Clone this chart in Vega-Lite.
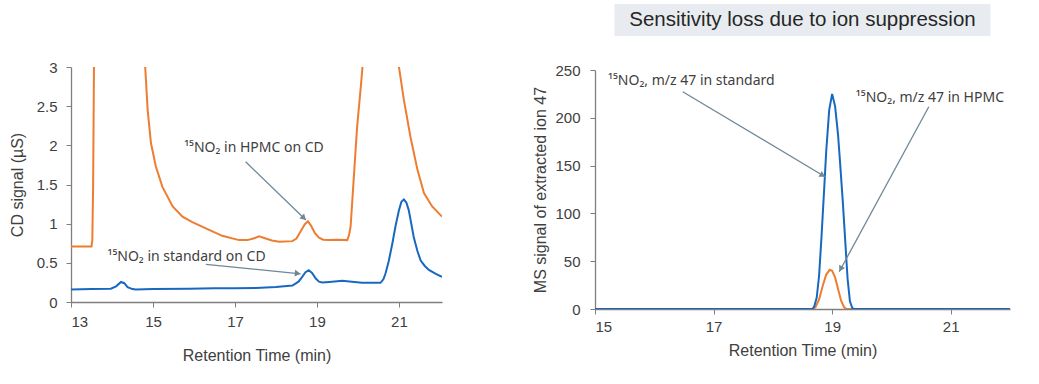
{
  "$schema": "https://vega.github.io/schema/vega-lite/v6.json",
  "padding": {"left": 9, "top": 4, "right": 5, "bottom": 5},
  "spacing": 90,
  "config": {
    "view": {"stroke": null},
    "font": "Liberation Sans",
    "axis": {
      "domainColor": "#7f7f7f",
      "tickColor": "#7f7f7f",
      "domainWidth": 1.3,
      "labelColor": "#404040",
      "titleColor": "#404040",
      "labelFont": "Liberation Sans",
      "titleFont": "Liberation Sans",
      "labelFontSize": 15,
      "titleFontSize": 16,
      "titleFontWeight": "normal",
      "grid": false,
      "tickSize": 5,
      "format": "~r",
      "labelOverlap": false
    }
  },
  "datasets": {
    "cdHPMC": [
      {"t": 13.0, "v": 0.71}, {"t": 13.3, "v": 0.71}, {"t": 13.5, "v": 0.71}, {"t": 13.52, "v": 0.79},
      {"t": 13.54, "v": 1.5}, {"t": 13.56, "v": 3.0}, {"t": 13.58, "v": 6}, {"t": 13.7, "v": 20},
      {"t": 14.7, "v": 20}, {"t": 14.79, "v": 3.3}, {"t": 14.81, "v": 3.0}, {"t": 14.87, "v": 2.45},
      {"t": 14.95, "v": 2.03}, {"t": 15.07, "v": 1.73}, {"t": 15.23, "v": 1.47}, {"t": 15.48, "v": 1.22},
      {"t": 15.72, "v": 1.09}, {"t": 15.96, "v": 1.02}, {"t": 16.29, "v": 0.94}, {"t": 16.69, "v": 0.845},
      {"t": 17.1, "v": 0.79}, {"t": 17.3, "v": 0.79}, {"t": 17.45, "v": 0.81}, {"t": 17.59, "v": 0.84},
      {"t": 17.75, "v": 0.81}, {"t": 17.9, "v": 0.785}, {"t": 18.08, "v": 0.77}, {"t": 18.4, "v": 0.777},
      {"t": 18.5, "v": 0.81}, {"t": 18.6, "v": 0.9}, {"t": 18.7, "v": 0.99}, {"t": 18.78, "v": 1.03},
      {"t": 18.85, "v": 0.98}, {"t": 18.95, "v": 0.88}, {"t": 19.05, "v": 0.82}, {"t": 19.15, "v": 0.795},
      {"t": 19.29, "v": 0.79}, {"t": 19.5, "v": 0.795}, {"t": 19.74, "v": 0.79}, {"t": 19.78, "v": 0.85},
      {"t": 19.82, "v": 0.96}, {"t": 19.9, "v": 1.6}, {"t": 19.98, "v": 2.24}, {"t": 20.07, "v": 2.75},
      {"t": 20.11, "v": 3.0}, {"t": 20.14, "v": 3.5}, {"t": 20.3, "v": 10}, {"t": 20.9, "v": 10},
      {"t": 20.98, "v": 3.2}, {"t": 21.0, "v": 3.0}, {"t": 21.12, "v": 2.58}, {"t": 21.28, "v": 2.11},
      {"t": 21.45, "v": 1.69}, {"t": 21.61, "v": 1.39}, {"t": 21.81, "v": 1.22}, {"t": 22.05, "v": 1.09}
    ],
    "cdStd": [
      {"t": 13.0, "v": 0.16}, {"t": 13.5, "v": 0.165}, {"t": 13.97, "v": 0.17}, {"t": 14.1, "v": 0.2},
      {"t": 14.22, "v": 0.256}, {"t": 14.3, "v": 0.24}, {"t": 14.38, "v": 0.19}, {"t": 14.5, "v": 0.165},
      {"t": 14.58, "v": 0.16}, {"t": 15.0, "v": 0.165}, {"t": 15.88, "v": 0.17}, {"t": 16.5, "v": 0.175},
      {"t": 17.0, "v": 0.175}, {"t": 17.51, "v": 0.18}, {"t": 18.0, "v": 0.19}, {"t": 18.4, "v": 0.21},
      {"t": 18.55, "v": 0.26}, {"t": 18.64, "v": 0.32}, {"t": 18.72, "v": 0.38}, {"t": 18.8, "v": 0.405},
      {"t": 18.88, "v": 0.37}, {"t": 18.97, "v": 0.3}, {"t": 19.05, "v": 0.26}, {"t": 19.13, "v": 0.25},
      {"t": 19.3, "v": 0.256}, {"t": 19.62, "v": 0.27}, {"t": 19.85, "v": 0.26}, {"t": 20.1, "v": 0.245},
      {"t": 20.55, "v": 0.245}, {"t": 20.62, "v": 0.29}, {"t": 20.67, "v": 0.36}, {"t": 20.75, "v": 0.52},
      {"t": 20.84, "v": 0.75}, {"t": 20.92, "v": 0.98}, {"t": 21.0, "v": 1.17}, {"t": 21.06, "v": 1.28},
      {"t": 21.12, "v": 1.31}, {"t": 21.18, "v": 1.27}, {"t": 21.24, "v": 1.17}, {"t": 21.3, "v": 1.0},
      {"t": 21.36, "v": 0.83}, {"t": 21.45, "v": 0.65}, {"t": 21.53, "v": 0.53}, {"t": 21.63, "v": 0.46},
      {"t": 21.73, "v": 0.41}, {"t": 21.9, "v": 0.36}, {"t": 22.05, "v": 0.32}
    ],
    "msStd": [
      {"t": 15.0, "v": 0}, {"t": 18.67, "v": 0}, {"t": 18.7, "v": 3}, {"t": 18.74, "v": 12},
      {"t": 18.78, "v": 35}, {"t": 18.82, "v": 75}, {"t": 18.865, "v": 125}, {"t": 18.9, "v": 165},
      {"t": 18.95, "v": 208}, {"t": 19.0, "v": 225}, {"t": 19.05, "v": 212}, {"t": 19.1, "v": 182},
      {"t": 19.135, "v": 152}, {"t": 19.18, "v": 112}, {"t": 19.22, "v": 72}, {"t": 19.26, "v": 32},
      {"t": 19.3, "v": 8}, {"t": 19.34, "v": 1}, {"t": 19.37, "v": 0}, {"t": 22.0, "v": 0}
    ],
    "msHPMC": [
      {"t": 15.0, "v": 0}, {"t": 18.68, "v": 0}, {"t": 18.72, "v": 2}, {"t": 18.78, "v": 10},
      {"t": 18.84, "v": 24}, {"t": 18.9, "v": 36}, {"t": 18.96, "v": 41}, {"t": 19.0, "v": 40},
      {"t": 19.05, "v": 33}, {"t": 19.1, "v": 21}, {"t": 19.15, "v": 9}, {"t": 19.2, "v": 2},
      {"t": 19.24, "v": 0}, {"t": 22.0, "v": 0}
    ],
    "notesL": [
      {"t": 15.76, "v": 1.96, "label": "¹⁵NO₂ in HPMC on CD"},
      {"t": 13.89, "v": 0.576, "label": "¹⁵NO₂ in standard on CD"}
    ],
    "arrowsL": [
      {"id": "hpmc", "x1": 17.26, "y1": 1.79, "x2": 18.73, "y2": 1.046, "hx": 18.68, "hy": 1.072},
      {"id": "std", "x1": 16.29, "y1": 0.48, "x2": 18.6, "y2": 0.36, "hx": 18.53, "hy": 0.364}
    ],
    "notesR": [
      {"t": 15.22, "v": 238, "label": "¹⁵NO₂, m/z 47 in standard"},
      {"t": 19.4, "v": 221, "label": "¹⁵NO₂, m/z 47 in HPMC"}
    ],
    "arrowsR": [
      {"id": "std", "x1": 16.48, "y1": 227.3, "x2": 18.88, "y2": 138.4, "hx": 18.84, "hy": 139.9},
      {"id": "hpmc", "x1": 20.63, "y1": 211.6, "x2": 19.12, "y2": 39, "hx": 19.144, "hy": 41.8}
    ]
  },
  "hconcat": [
    {
      "vconcat": [
        {
          "width": 371,
          "height": 32,
          "data": {"values": [{"a": ""}]},
          "mark": {"type": "text"},
          "encoding": {"text": {"field": "a"}}
        },
        {
          "width": 371,
          "height": 235,
          "layer": [
            {
              "data": {"name": "cdHPMC"},
              "mark": {"type": "line", "color": "#ED7D31", "strokeWidth": 2, "clip": true},
              "encoding": {
                "x": {"field": "t", "type": "quantitative", "scale": {"domain": [13, 22.05], "nice": false},
                  "title": "Retention Time (min)",
                  "axis": {"values": [13, 15, 17, 19, 21], "labelPadding": 7, "titlePadding": 18}},
                "y": {"field": "v", "type": "quantitative", "scale": {"domain": [0, 3], "nice": false},
                  "title": "CD signal (µS)",
                  "axis": {"values": [0, 0.5, 1, 1.5, 2, 2.5, 3], "tickCount": 7, "labelOverlap": false, "labelExpr": "format(datum.value, '~r')", "labelPadding": 9, "titlePadding": 11}}
              }
            },
            {
              "data": {"name": "cdStd"},
              "mark": {"type": "line", "color": "#1868C2", "strokeWidth": 2, "clip": true},
              "encoding": {
                "x": {"field": "t", "type": "quantitative"},
                "y": {"field": "v", "type": "quantitative"}
              }
            },
            {
              "data": {"name": "arrowsL"},
              "mark": {"type": "rule", "color": "#6F8896", "strokeWidth": 1.3},
              "encoding": {
                "x": {"field": "x1", "type": "quantitative"},
                "y": {"field": "y1", "type": "quantitative"},
                "x2": {"field": "x2"},
                "y2": {"field": "y2"}
              }
            },
            {
              "data": {"name": "arrowsL"},
              "transform": [{"filter": "datum.id === 'hpmc'"}],
              "mark": {"type": "point", "shape": "triangle-up", "filled": true, "color": "#6F8896", "size": 45, "angle": 134, "opacity": 1},
              "encoding": {
                "x": {"field": "hx", "type": "quantitative"},
                "y": {"field": "hy", "type": "quantitative"}
              }
            },
            {
              "data": {"name": "arrowsL"},
              "transform": [{"filter": "datum.id === 'std'"}],
              "mark": {"type": "point", "shape": "triangle-up", "filled": true, "color": "#6F8896", "size": 45, "angle": 96, "opacity": 1},
              "encoding": {
                "x": {"field": "hx", "type": "quantitative"},
                "y": {"field": "hy", "type": "quantitative"}
              }
            },
            {
              "data": {"name": "notesL"},
              "mark": {"type": "text", "align": "left", "baseline": "middle", "font": "Noto Sans", "fontSize": 14, "color": "#404040"},
              "encoding": {
                "x": {"field": "t", "type": "quantitative"},
                "y": {"field": "v", "type": "quantitative"},
                "text": {"field": "label"}
              }
            }
          ]
        }
      ],
      "spacing": 31,
      "bounds": "flush"
    },
    {
      "vconcat": [
        {
          "width": 376,
          "height": 32,
          "view": {"fill": "#E8ECF0", "stroke": null},
          "data": {"values": [{"label": "Sensitivity loss due to ion suppression"}]},
          "mark": {"type": "text", "fontSize": 20.5, "font": "Liberation Sans", "color": "#262626", "baseline": "middle", "align": "center"},
          "encoding": {"text": {"field": "label"}}
        },
        {
          "width": 415,
          "height": 239,
          "layer": [
            {
              "data": {"name": "msHPMC"},
              "mark": {"type": "line", "color": "#ED7D31", "strokeWidth": 2, "clip": true},
              "encoding": {
                "x": {"field": "t", "type": "quantitative", "scale": {"domain": [15, 22], "nice": false},
                  "title": "Retention Time (min)",
                  "axis": {"values": [15, 17, 19, 21], "labelPadding": 5, "titlePadding": 8}},
                "y": {"field": "v", "type": "quantitative", "scale": {"domain": [0, 250], "nice": false},
                  "title": "MS signal of extracted ion 47",
                  "axis": {"values": [0, 50, 100, 150, 200, 250], "labelPadding": 10, "titlePadding": 6}}
              }
            },
            {
              "data": {"name": "msStd"},
              "mark": {"type": "line", "color": "#1868C2", "strokeWidth": 2, "clip": true},
              "encoding": {
                "x": {"field": "t", "type": "quantitative"},
                "y": {"field": "v", "type": "quantitative"}
              }
            },
            {
              "data": {"name": "arrowsR"},
              "mark": {"type": "rule", "color": "#6F8896", "strokeWidth": 1.3},
              "encoding": {
                "x": {"field": "x1", "type": "quantitative"},
                "y": {"field": "y1", "type": "quantitative"},
                "x2": {"field": "x2"},
                "y2": {"field": "y2"}
              }
            },
            {
              "data": {"name": "arrowsR"},
              "transform": [{"filter": "datum.id === 'std'"}],
              "mark": {"type": "point", "shape": "triangle-up", "filled": true, "color": "#6F8896", "size": 45, "angle": 121, "opacity": 1},
              "encoding": {
                "x": {"field": "hx", "type": "quantitative"},
                "y": {"field": "hy", "type": "quantitative"}
              }
            },
            {
              "data": {"name": "arrowsR"},
              "transform": [{"filter": "datum.id === 'hpmc'"}],
              "mark": {"type": "point", "shape": "triangle-up", "filled": true, "color": "#6F8896", "size": 45, "angle": 209, "opacity": 1},
              "encoding": {
                "x": {"field": "hx", "type": "quantitative"},
                "y": {"field": "hy", "type": "quantitative"}
              }
            },
            {
              "data": {"name": "notesR"},
              "mark": {"type": "text", "align": "left", "baseline": "middle", "font": "Noto Sans", "fontSize": 14, "color": "#404040"},
              "encoding": {
                "x": {"field": "t", "type": "quantitative"},
                "y": {"field": "v", "type": "quantitative"},
                "text": {"field": "label"}
              }
            }
          ]
        }
      ],
      "spacing": 34,
      "bounds": "flush",
      "center": true
    }
  ]
}
